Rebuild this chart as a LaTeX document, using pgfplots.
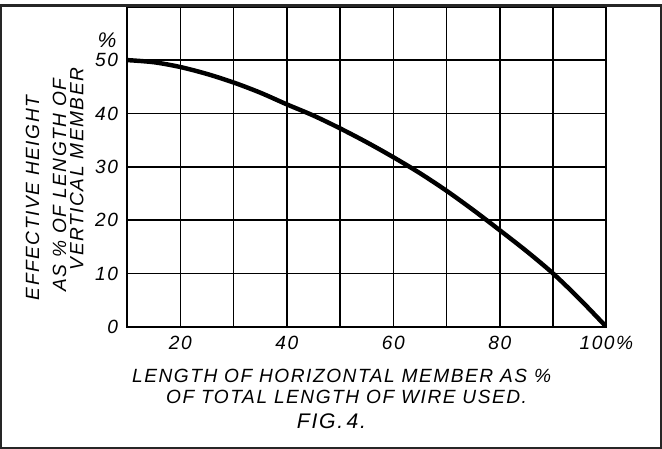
\documentclass[border=0pt]{standalone}
\usepackage{fontspec}
\setmainfont{Liberation Sans}
\newfontfamily\lblfont[LetterSpace=8]{Liberation Sans}
\usepackage{pgfplots}
\pgfplotsset{compat=1.18}
\begin{document}
\begin{tikzpicture}
\begin{axis}[
  scale only axis,
  width=238pt, height=159pt,
  xmin=10, xmax=100, ymin=0, ymax=60,
  xtick={10,20,...,100},
  xticklabels={,20,,40,,60,,80,,100\%},
  ytick={0,10,...,60},
  yticklabels={0,10,20,30,40,50,},
  grid=major,
  major grid style={black, line width=0.75pt},
  major tick length=0pt,
  axis line style={black, line width=1pt},
  /pgf/number format/assume math mode=true,
  tick label style={font=\lblfont\fontsize{9.5}{10}\selectfont\itshape},
  xticklabel style={yshift=-1pt},
  yticklabel style={xshift=-1pt},
]
\addplot[black, line width=2.2pt, smooth] coordinates {
(10,50) (15,49.6) (20,48.7) (25,47.4) (30,45.8) (35,43.9) (40,41.7) (45,39.6)
(50,37.2) (55,34.6) (60,31.8) (65,28.8) (70,25.5) (75,21.9) (80,18.1)
(85,14.2) (90,10.0) (95,5.2) (100,0)
};
\end{axis}
\begin{scope}[font=\lblfont\fontsize{9.5}{11}\selectfont\itshape]
\node[font=\lblfont\fontsize{10.5}{11}\selectfont\itshape] at (-10pt,142.5pt) {\%};
\node[rotate=90] at (-47pt,64pt) {EFFECTIVE HEIGHT};
\node[rotate=90] at (-33.5pt,70.5pt) {AS \% OF LENGTH OF};
\node[rotate=90] at (-25pt,78.5pt) {VERTICAL MEMBER};
\node at (106.5pt,-24.5pt) {LENGTH OF HORIZONTAL MEMBER AS \%};
\node at (109pt,-34.5pt) {OF TOTAL LENGTH OF WIRE USED.};
\node[font=\lblfont\fontsize{10.5}{11}\selectfont\itshape] at (101.5pt,-47pt) {FIG.\,4.};
\end{scope}
\draw[black!85, line width=1.2pt] (-62.5pt,-60pt) rectangle (265pt,159.5pt);
\end{tikzpicture}
\end{document}
